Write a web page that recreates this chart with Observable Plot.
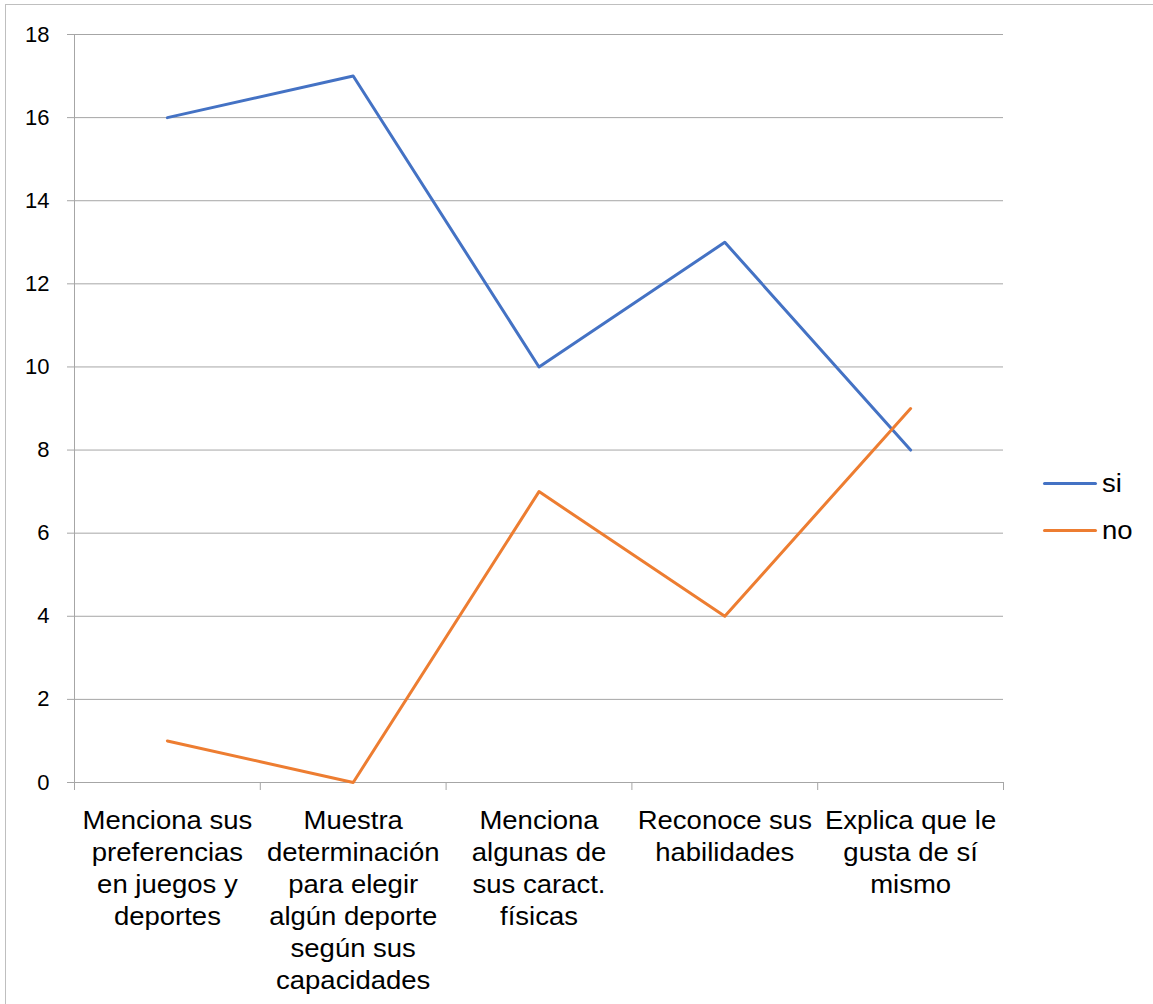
<!DOCTYPE html>
<html>
<head>
<meta charset="utf-8">
<script src="https://cdn.jsdelivr.net/npm/d3@7"></script>
<script src="https://cdn.jsdelivr.net/npm/@observablehq/plot@0.6"></script>
<style>
  html, body { margin: 0; padding: 0; background: #fff; overflow: hidden; }
  #wrap { position: relative; width: 1153px; height: 1004px; }
  #border { position: absolute; left: 5px; top: 4px; width: 1300px; height: 1200px; border: 1px solid #bfbfbf; box-sizing: border-box; pointer-events: none; }
  #chart { position: absolute; left: 0; top: 0; }
  .leg { position: absolute; left: 1043px; font-family: "Liberation Sans", Arial, sans-serif; font-size: 25px; color: #000; display: flex; align-items: center; }
  .leg .sw { width: 54px; height: 3px; border-radius: 1.5px; }
  .leg .lb { margin-left: 5px; display: inline-block; transform: scaleX(1.1); transform-origin: left center; }
</style>
</head>
<body>
<div id="wrap">
  <div id="border"></div>
  <div id="chart"></div>
  <div id="legend"></div>
</div>
<script>
const categories = [
  "Menciona sus\npreferencias\nen juegos y\ndeportes",
  "Muestra\ndeterminación\npara elegir\nalgún deporte\nsegún sus\ncapacidades",
  "Menciona\nalgunas de\nsus caract.\nfísicas",
  "Reconoce sus\nhabilidades",
  "Explica que le\ngusta de sí\nmismo"
];
const siValues = [16, 17, 10, 13, 8];
const noValues = [1, 0, 7, 4, 9];
const yTicks = [0, 2, 4, 6, 8, 10, 12, 14, 16, 18];
const seriesNames = ["si", "no"];
const seriesColors = ["#4472C4", "#ED7D31"];

const data = categories.map((c, i) => ({idx: i + 0.5, label: c, si: siValues[i], no: noValues[i]}));
const bounds = d3.range(categories.length + 1);
const gridColor = "#a6a6a6";

const chart = Plot.plot({
  width: 1153,
  height: 1004,
  marginLeft: 74,
  marginRight: 150,
  marginTop: 34,
  marginBottom: 222,
  style: {fontFamily: "'Liberation Sans', Arial, sans-serif", background: "transparent", color: "#000"},
  x: {domain: [0, categories.length], axis: null},
  y: {domain: [0, 18], axis: null},
  marks: [
    Plot.gridY(yTicks.filter(d => d > 0), {stroke: gridColor, strokeOpacity: 1, strokeWidth: 1}),
    Plot.axisY(yTicks, {tickSize: 7, tickPadding: 18, stroke: gridColor, strokeOpacity: 1, fill: "#000", fontSize: 22, label: null, tickFormat: d => String(d)}),
    Plot.axisX(bounds, {tickSize: 8, stroke: gridColor, strokeOpacity: 1, tickFormat: () => "", label: null}),
    Plot.ruleX([0], {stroke: gridColor, strokeWidth: 1}),
    Plot.ruleY([0], {stroke: gridColor, strokeWidth: 1}),
    Plot.line(data, {x: "idx", y: "si", stroke: seriesColors[0], strokeWidth: 3}),
    Plot.line(data, {x: "idx", y: "no", stroke: seriesColors[1], strokeWidth: 3}),
    Plot.text(data, {x: "idx", text: "label", frameAnchor: "bottom", lineAnchor: "top", dy: 24, fontSize: 25, lineHeight: 1.28, fill: "#000"})
  ]
});
document.getElementById("chart").appendChild(chart);

// widen category label glyphs slightly (Arial in reference is horizontally stretched)
chart.querySelectorAll('g[aria-label="text"] text').forEach(t => {
  const tr = t.getAttribute("transform") || "";
  t.setAttribute("transform", tr + " scale(1.1,1)");
});

// legend
const legend = document.getElementById("legend");
const legTops = [483, 530];
seriesNames.forEach((name, i) => {
  const row = document.createElement("div");
  row.className = "leg";
  row.style.top = (legTops[i] - 15) + "px";
  row.style.height = "30px";
  row.innerHTML = `<span class="sw" style="background:${seriesColors[i]}"></span><span class="lb">${name}</span>`;
  legend.appendChild(row);
});
</script>
</body>
</html>
